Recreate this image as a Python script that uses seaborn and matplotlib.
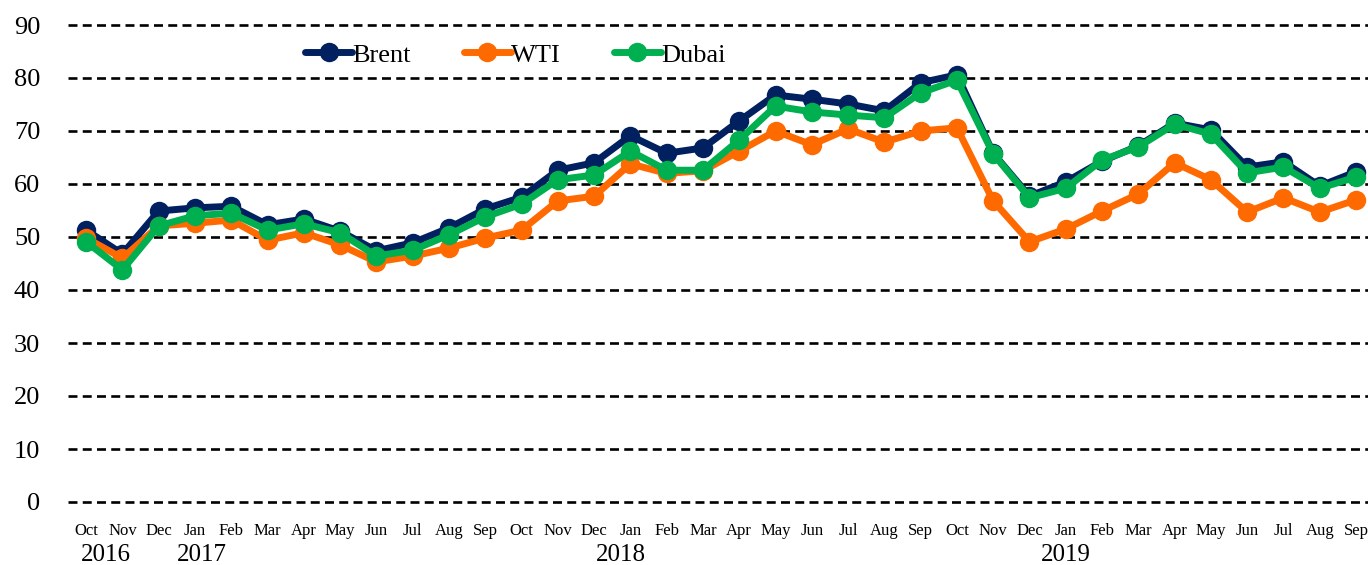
import matplotlib
matplotlib.use("Agg")
import matplotlib.pyplot as plt
import matplotlib.transforms as mtransforms
import pandas as pd
import seaborn as sns

# Monthly crude prices, Oct 2016 - Sep 2019
months = ["Oct", "Nov", "Dec", "Jan", "Feb", "Mar", "Apr", "May", "Jun", "Jul", "Aug", "Sep",
          "Oct", "Nov", "Dec", "Jan", "Feb", "Mar", "Apr", "May", "Jun", "Jul", "Aug", "Sep",
          "Oct", "Nov", "Dec", "Jan", "Feb", "Mar", "Apr", "May", "Jun", "Jul", "Aug", "Sep"]

brent = [51.3, 46.8, 54.9, 55.5, 55.8, 52.3, 53.4, 51.1, 47.4, 48.9, 51.7, 55.3,
         57.5, 62.6, 64.0, 69.1, 65.8, 66.8, 71.9, 76.8, 76.0, 75.1, 73.8, 79.1,
         80.6, 65.8, 57.7, 60.4, 64.3, 67.2, 71.5, 70.2, 63.2, 64.2, 59.6, 62.3]

wti = [49.8, 46.0, 52.1, 52.6, 53.2, 49.4, 50.8, 48.5, 45.3, 46.4, 47.9, 49.8,
       51.3, 56.8, 57.7, 63.8, 62.0, 62.5, 66.2, 70.0, 67.4, 70.4, 67.9, 70.0,
       70.6, 56.8, 49.1, 51.5, 54.9, 58.1, 64.0, 60.8, 54.7, 57.4, 54.7, 57.0]

dubai = [49.1, 43.8, 52.1, 54.0, 54.5, 51.3, 52.5, 50.8, 46.4, 47.5, 50.4, 53.8,
         56.2, 60.8, 61.7, 66.2, 62.6, 62.6, 68.3, 74.7, 73.6, 73.0, 72.5, 77.2,
         79.6, 65.7, 57.4, 59.2, 64.5, 67.0, 71.3, 69.4, 62.1, 63.2, 59.2, 61.3]

year_labels = ["2016", "2017", "2018", "2019"]
year_pos = [0.55, 3.2, 14.75, 27.0]

series_names = ["Brent", "WTI", "Dubai"]
colors = {"Brent": "#002060", "WTI": "#FF6A00", "Dubai": "#00B050"}

idx = list(range(len(months)))
df = pd.concat([
    pd.DataFrame({"t": idx, "price": brent, "crude": "Brent"}),
    pd.DataFrame({"t": idx, "price": wti, "crude": "WTI"}),
    pd.DataFrame({"t": idx, "price": dubai, "crude": "Dubai"}),
], ignore_index=True)

sns.set_theme(style="white")
plt.rcParams["font.family"] = ["Liberation Serif", "DejaVu Serif"]
plt.rcParams["text.color"] = "black"
plt.rcParams["xtick.color"] = "black"
plt.rcParams["ytick.color"] = "black"

fig = plt.figure(figsize=(13.68, 5.65), dpi=100)
ax = fig.add_axes([68 / 1368, (565 - 507.3) / 565, 1300 / 1368, 487.6 / 565])

for name in series_names:
    sns.lineplot(data=df[df["crude"] == name], x="t", y="price", ax=ax,
                 color=colors[name], linewidth=5.0, marker="o", markersize=14,
                 markeredgewidth=0, label=name, zorder=3)

ax.set_xlim(-0.5, 35.33)
ax.set_ylim(-1, 91)
ax.set_yticks(range(0, 91, 10))
ax.set_yticklabels([str(v) for v in range(0, 91, 10)], fontsize=19)
ax.set_xticks(idx)
ax.set_xticklabels(months, fontsize=12)
ax.tick_params(axis="x", length=0, pad=11)
ax.tick_params(axis="y", length=0, pad=20)
ax.set_xlabel("")
ax.set_ylabel("")
for s in ax.spines.values():
    s.set_visible(False)

for v in range(0, 91, 10):
    ax.axhline(v, color="black", linestyle=(0, (3.4, 2.0)), linewidth=1.9, zorder=1)

trans = mtransforms.blended_transform_factory(ax.transData, ax.transAxes)
for lab, pos in zip(year_labels, year_pos):
    ax.text(pos, -0.098, lab, transform=trans, ha="center", va="center", fontsize=18)

leg = ax.legend(loc="center", bbox_to_anchor=(0.344, 0.928), ncol=3, frameon=False,
                fontsize=19, handlelength=1.8, handletextpad=0.0, columnspacing=2.0)

fig.savefig("out.png", dpi=100)
